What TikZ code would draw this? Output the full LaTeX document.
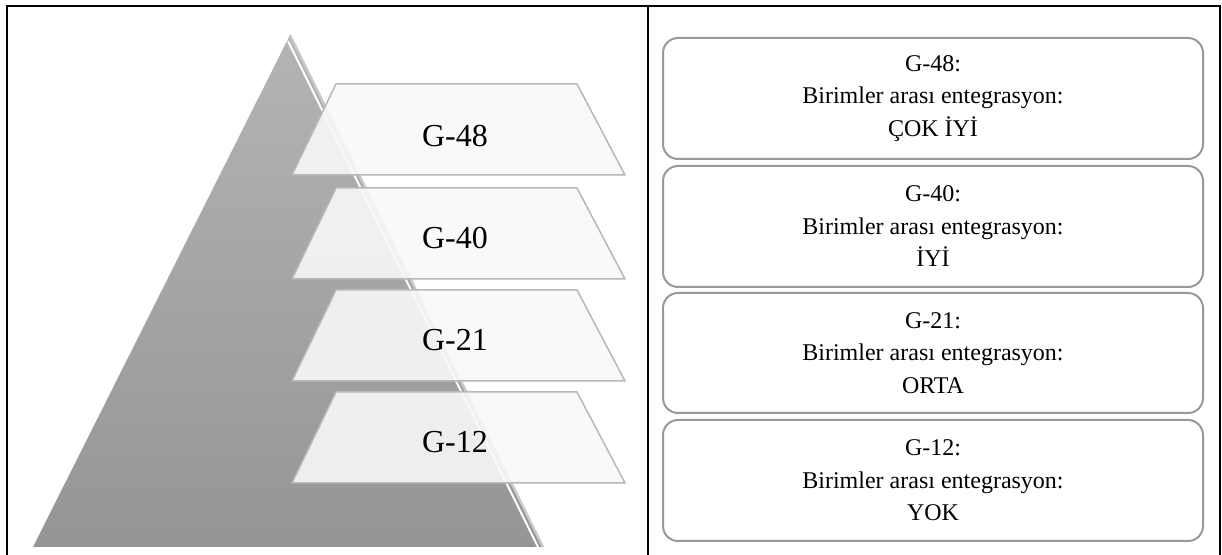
\documentclass[tikz,border=0pt]{standalone}
\usepackage{fontspec}
\setmainfont{Liberation Serif}
\usetikzlibrary{calc}

\definecolor{pyrtop}{HTML}{B4B4B4}
\definecolor{pyrbot}{HTML}{959595}
\definecolor{edgeblue}{HTML}{C3CCD4}
\definecolor{slabfill}{HTML}{F8F8F8}
\definecolor{slabline}{HTML}{B8B8B8}
\definecolor{boxline}{HTML}{999999}

\begin{document}
\begin{tikzpicture}[x=0.5pt,y=-0.5pt,
	slab/.style={fill=slabfill,fill opacity=0.9,draw=slabline,line width=0.75pt},
	tierlabel/.style={font=\fontsize{16}{19}\selectfont},
	infobox/.style={draw=boxline,line width=1pt,rounded corners=7.5pt},
	infotext/.style={align=center,font=\fontsize{12}{16.25}\selectfont}]
	\useasboundingbox (0,0) rectangle (1222,555);
	
	%frame
	\draw[line width=1pt] (7,555) -- (7,6) -- (1220,6) -- (1220,555);
	\draw[line width=1pt] (648,6) -- (648,555);
	
	%pyramid
	\shade[top color=pyrtop,bottom color=pyrbot] (33,547) -- (290,35) -- (543,547) -- cycle;
	\draw[edgeblue,line width=1.2pt] (290,35) -- (543,547);
	\draw[white,line width=1pt] (288,41) -- (538,547);
	
	%slabs
	\filldraw[slab] (336,84)  -- (577,84)  -- (625,175) -- (292,175) -- cycle;
	\filldraw[slab] (336,188) -- (577,188) -- (625,279) -- (292,279) -- cycle;
	\filldraw[slab] (336,290) -- (577,290) -- (625,381) -- (292,381) -- cycle;
	\filldraw[slab] (336,392) -- (577,392) -- (625,483) -- (292,483) -- cycle;
	
	%slab labels
	\node[tierlabel] (g48) at (455,136) {G-48};
	\node[tierlabel] (g40) at (455,238) {G-40};
	\node[tierlabel] (g21) at (455,340) {G-21};
	\node[tierlabel] (g12) at (455,442) {G-12};
	
	%boxes
	\draw[infobox] (663,38)  rectangle (1203,159);
	\draw[infobox] (663,166) rectangle (1203,287);
	\draw[infobox] (663,293) rectangle (1203,413);
	\draw[infobox] (663,420) rectangle (1203,541);
	
	%box texts
	\node[infotext] (i48) at (933,98.5)  {G-48:\\Birimler arası entegrasyon:\\ÇOK İYİ};
	\node[infotext] (i40) at (933,226.5) {G-40:\\Birimler arası entegrasyon:\\İYİ};
	\node[infotext] (i21) at (933,353)   {G-21:\\Birimler arası entegrasyon:\\ORTA};
	\node[infotext] (i12) at (933,480.5) {G-12:\\Birimler arası entegrasyon:\\YOK};
\end{tikzpicture}
\end{document}
